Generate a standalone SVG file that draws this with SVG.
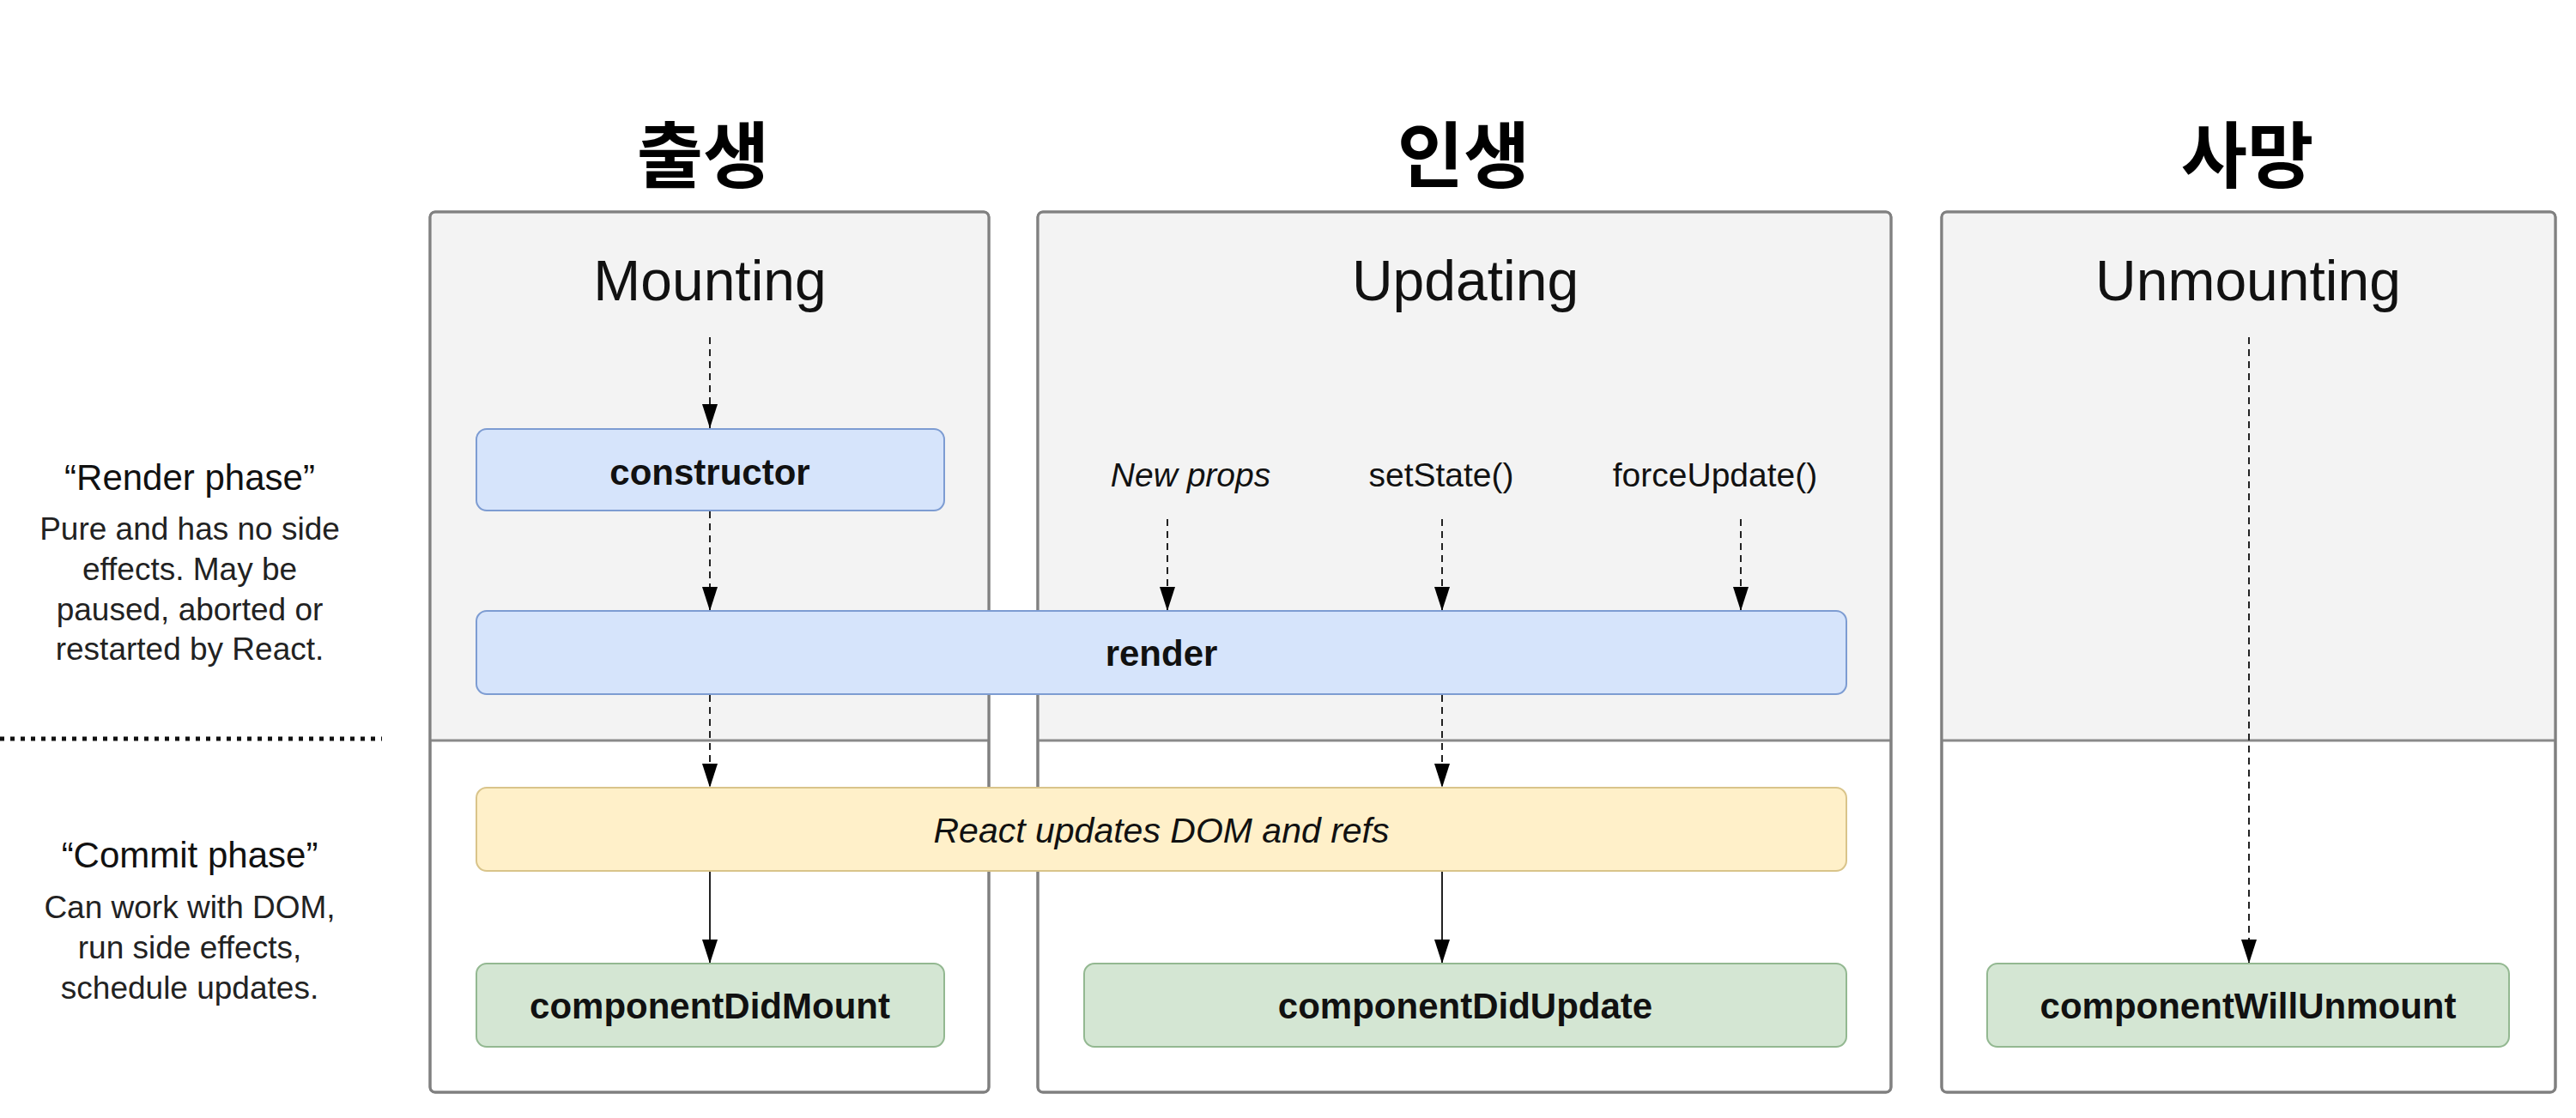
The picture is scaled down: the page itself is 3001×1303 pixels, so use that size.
<svg xmlns="http://www.w3.org/2000/svg" width="3001" height="1303" viewBox="0 0 3001 1303">
<style>
  .lane { fill: #ffffff; stroke: #808080; stroke-width: 3; }
  .laneTop { fill: #f3f3f3; }
  .div { stroke: #8a8a8a; stroke-width: 3; }
  .blue { fill: #d6e4fb; stroke: #7d9cd2; stroke-width: 2; }
  .yellow { fill: #fff0c9; stroke: #d9c48a; stroke-width: 2; }
  .green { fill: #d4e6d3; stroke: #93b891; stroke-width: 2; }
  .t { font-family: "Liberation Sans", Arial, sans-serif; fill: #111; text-anchor: middle; }
  .kr { font-family: "Noto Sans CJK KR", "Noto Sans CJK SC", sans-serif; font-weight: bold; font-size: 84px; fill: #000; text-anchor: middle; }
  .title { font-size: 66px; }
  .node { font-size: 42px; font-weight: bold; }
  .lbl { font-size: 39px; }
  .it { font-style: italic; }
  .side { font-size: 37px; fill: #222; }
  .sideh { font-size: 42px; }
  .dash { stroke: #222; stroke-width: 2; stroke-dasharray: 8 6; fill: none; }
  .solid { stroke: #222; stroke-width: 2; fill: none; }
</style>
<defs>
  <marker id="arr" markerUnits="userSpaceOnUse" markerWidth="28" markerHeight="18" viewBox="0 0 28 18" refX="28" refY="9" orient="auto">
    <path d="M0,0 L28,9 L0,18 z" fill="#000" stroke="none"/>
  </marker>
</defs>
<rect width="3001" height="1303" fill="#ffffff"/>

<g id="headings">
  <text class="kr" x="819" y="212">출생</text>
  <text class="kr" x="1705" y="212">인생</text>
  <text class="kr" x="2618" y="212">사망</text>
</g>

<g id="lane-mounting">
  <rect class="lane" x="501" y="247" width="651" height="1026" rx="6"/>
  <path class="laneTop" d="M502.5,863 V254 a5,5 0 0 1 5,-5.5 H1145 a5,5 0 0 1 5.5,5.5 V863 z"/>
  <line class="div" x1="501" y1="863" x2="1152" y2="863"/>
  <rect x="501" y="247" width="651" height="1026" rx="6" fill="none" stroke="#808080" stroke-width="3"/>
  <text class="t title" x="827" y="350">Mounting</text>
</g>

<g id="lane-updating">
  <rect class="lane" x="1209" y="247" width="994" height="1026" rx="6"/>
  <path class="laneTop" d="M1210.5,863 V254 a5,5 0 0 1 5,-5.5 H2196 a5,5 0 0 1 5.5,5.5 V863 z"/>
  <line class="div" x1="1209" y1="863" x2="2203" y2="863"/>
  <rect x="1209" y="247" width="994" height="1026" rx="6" fill="none" stroke="#808080" stroke-width="3"/>
  <text class="t title" x="1707" y="350">Updating</text>
</g>

<g id="lane-unmounting">
  <rect class="lane" x="2262" y="247" width="715" height="1026" rx="6"/>
  <path class="laneTop" d="M2263.5,863 V254 a5,5 0 0 1 5,-5.5 H2970 a5,5 0 0 1 5.5,5.5 V863 z"/>
  <line class="div" x1="2262" y1="863" x2="2977" y2="863"/>
  <rect x="2262" y="247" width="715" height="1026" rx="6" fill="none" stroke="#808080" stroke-width="3"/>
  <text class="t title" x="2619" y="350">Unmounting</text>
</g>

<g id="side-labels">
  <text class="t sideh" x="221" y="571">“Render phase”</text>
  <text class="t side" x="221" y="629">Pure and has no side</text>
  <text class="t side" x="221" y="676">effects. May be</text>
  <text class="t side" x="221" y="723">paused, aborted or</text>
  <text class="t side" x="221" y="769">restarted by React.</text>
  <line x1="0" y1="861" x2="445" y2="861" stroke="#111" stroke-width="5" stroke-dasharray="5 7"/>
  <text class="t sideh" x="221" y="1011">“Commit phase”</text>
  <text class="t side" x="221" y="1070">Can work with DOM,</text>
  <text class="t side" x="221" y="1117">run side effects,</text>
  <text class="t side" x="221" y="1164">schedule updates.</text>
</g>

<g id="update-triggers">
  <text class="t lbl it" x="1387" y="567">New props</text>
  <text class="t lbl" x="1679" y="567">setState()</text>
  <text class="t lbl" x="1998" y="567">forceUpdate()</text>
</g>

<g id="connectors">
  <line class="dash" x1="827" y1="393" x2="827" y2="499" marker-end="url(#arr)"/>
  <line class="dash" x1="827" y1="596" x2="827" y2="712" marker-end="url(#arr)"/>
  <line class="dash" x1="827" y1="810" x2="827" y2="918" marker-end="url(#arr)"/>
  <line class="dash" x1="1360" y1="605" x2="1360" y2="712" marker-end="url(#arr)"/>
  <line class="dash" x1="1680" y1="605" x2="1680" y2="712" marker-end="url(#arr)"/>
  <line class="dash" x1="2028" y1="605" x2="2028" y2="712" marker-end="url(#arr)"/>
  <line class="dash" x1="1680" y1="810" x2="1680" y2="918" marker-end="url(#arr)"/>
  <line class="dash" x1="2620" y1="393" x2="2620" y2="1123" marker-end="url(#arr)"/>
  <line class="solid" x1="827" y1="1015" x2="827" y2="1123" marker-end="url(#arr)"/>
  <line class="solid" x1="1680" y1="1015" x2="1680" y2="1123" marker-end="url(#arr)"/>
</g>

<g id="node-constructor">
  <rect class="blue" x="555" y="500" width="545" height="95" rx="12"/>
  <text class="t node" x="827" y="565">constructor</text>
</g>
<g id="node-render">
  <rect class="blue" x="555" y="712" width="1596" height="97" rx="12"/>
  <text class="t node" x="1353" y="776">render</text>
</g>
<g id="node-react-updates">
  <rect class="yellow" x="555" y="918" width="1596" height="97" rx="12"/>
  <text class="t it" x="1353" y="982" font-size="41">React updates DOM and refs</text>
</g>
<g id="node-componentDidMount">
  <rect class="green" x="555" y="1123" width="545" height="97" rx="12"/>
  <text class="t node" x="827" y="1187">componentDidMount</text>
</g>
<g id="node-componentDidUpdate">
  <rect class="green" x="1263" y="1123" width="888" height="97" rx="12"/>
  <text class="t node" x="1707" y="1187">componentDidUpdate</text>
</g>
<g id="node-componentWillUnmount">
  <rect class="green" x="2315" y="1123" width="608" height="97" rx="12"/>
  <text class="t node" x="2619" y="1187">componentWillUnmount</text>
</g>
</svg>
